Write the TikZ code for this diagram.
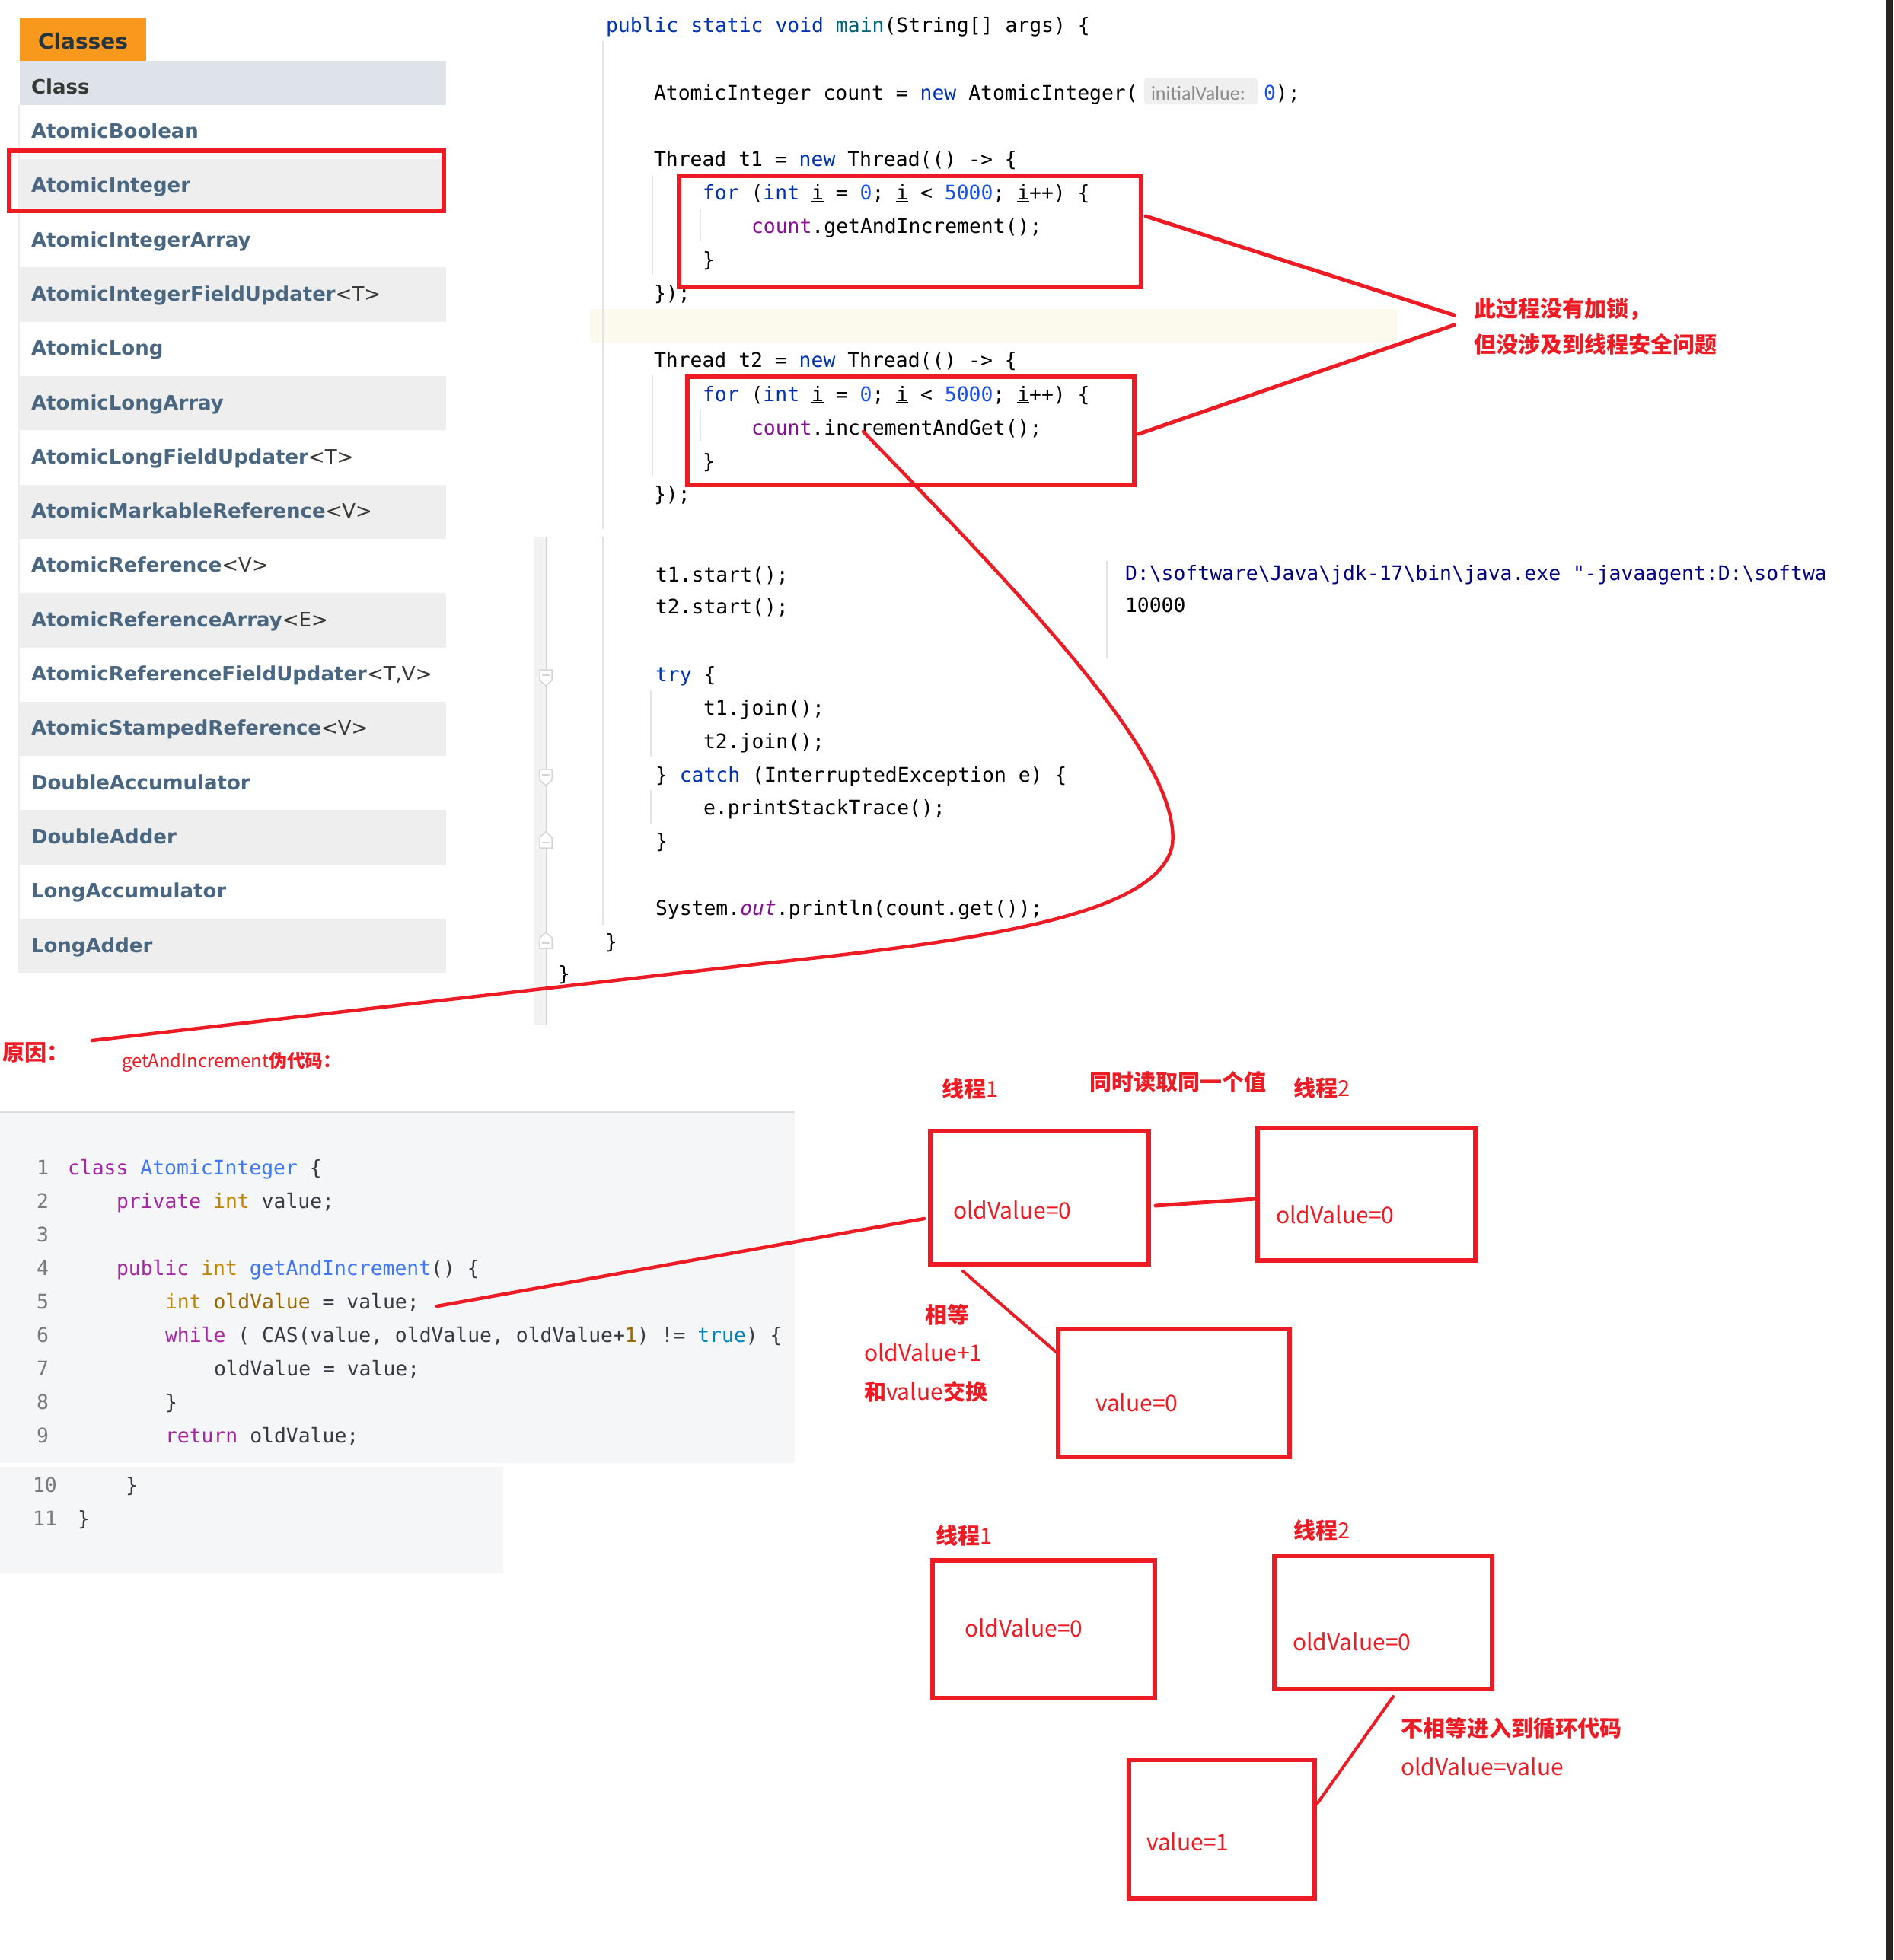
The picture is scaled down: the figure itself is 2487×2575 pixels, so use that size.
\documentclass[tikz,border=0pt]{standalone}
\usepackage{fontspec}
\setmainfont{DejaVu Sans}
\newfontfamily\dvs{DejaVu Sans}
\newfontfamily\mono{DejaVu Sans Mono}
\newfontfamily\cjk{Noto Sans CJK SC}
\newfontfamily\hint{Carlito}

\definecolor{pred}{HTML}{ED1C24}
\definecolor{tabor}{HTML}{F8981D}
\definecolor{tabtx}{HTML}{253441}
\definecolor{hdrbg}{HTML}{DEE3E9}
\definecolor{rowgray}{HTML}{EEEEEF}
\definecolor{link}{HTML}{4A6782}
\definecolor{dark}{HTML}{353833}
\definecolor{kw}{HTML}{0033B3}
\definecolor{fn}{HTML}{00627A}
\definecolor{num}{HTML}{1750EB}
\definecolor{pur}{HTML}{871094}
\definecolor{navy}{HTML}{000080}
\definecolor{guide}{HTML}{E4E4E4}
\definecolor{curline}{HTML}{FCFAED}
\definecolor{hintbg}{HTML}{EFEFEF}
\definecolor{hinttx}{HTML}{8C8C8C}
\definecolor{codebg}{HTML}{F5F6F8}
\definecolor{codeline}{HTML}{DDDDDD}
\definecolor{lnum}{HTML}{7A7A7A}
\definecolor{akw}{HTML}{A626A4}
\definecolor{aty}{HTML}{C18401}
\definecolor{avar}{HTML}{986801}
\definecolor{atit}{HTML}{4078F2}
\definecolor{alit}{HTML}{0184BC}
\definecolor{atxt}{HTML}{383A42}
\definecolor{gutter}{HTML}{F2F2F2}
\definecolor{gutline}{HTML}{D4D4D4}
\definecolor{rstrip}{HTML}{2A2421}

\newcommand\fsz[1]{\fontsize{#1}{#1}\selectfont}
\newcommand\ck[1]{\textcolor{kw}{#1}}
\newcommand\cn[1]{\textcolor{num}{#1}}
\newcommand\cpu[1]{\textcolor{pur}{#1}}
\newcommand\ui{\underline{i}}
\newcommand\bs{\textbackslash}
\newcommand\akw[1]{\textcolor{akw}{#1}}
\newcommand\aty[1]{\textcolor{aty}{#1}}
\newcommand\avar[1]{\textcolor{avar}{#1}}
\newcommand\atit[1]{\textcolor{atit}{#1}}
\newcommand\alit[1]{\textcolor{alit}{#1}}

\tikzset{
  txt/.style={anchor=base west, inner sep=0pt, outer sep=0pt},
  code/.style={txt, font=\mono\fsz{26.4}, text=black},
  pcode/.style={txt, font=\mono\fsz{26.4}, text=atxt},
  lno/.style={txt, font=\mono\fsz{26.4}, text=lnum},
  item/.style={txt, font=\dvs\bfseries\fsz{26}, text=link},
  redbox/.style={draw=pred, line width=6pt, anchor=north west, inner sep=0pt, outer sep=0pt},
  redline/.style={draw=pred, line width=5pt, line cap=round},
  boxtext/.style={txt, font=\cjk\fsz{30}, text=pred},
  clabel/.style={txt, font=\cjk\fsz{29}, text=pred},
  guideline/.style={draw=guide, line width=1.5pt},
  foldmark/.style={draw=gutline, fill=white, line width=1.5pt},
}

\newcommand\lrow[4]{%
  \path[fill=#4] (24,{137.5+71.3*#1}) rectangle (586,{137.5+71.3*(#1+1)});
  \node[item] (r#1) at (41,{137.5+71.3*#1+44}) {#2{\mdseries\color{dark}#3}};
}
\newcommand\folddown[1]{%
  \path[foldmark] (709,{#1-10}) -- (725,{#1-10}) -- (725,{#1+4}) -- (717,{#1+11}) -- (709,{#1+4}) -- cycle;
  \draw[gutline, line width=1.5pt] (712,{#1-3}) -- (722,{#1-3});
}
\newcommand\foldup[1]{%
  \path[foldmark] (709,{#1+10}) -- (725,{#1+10}) -- (725,{#1-4}) -- (717,{#1-11}) -- (709,{#1-4}) -- cycle;
  \draw[gutline, line width=1.5pt] (712,{#1+3}) -- (722,{#1+3});
}

\begin{document}
\begin{tikzpicture}[x=1pt,y=-1pt]
\useasboundingbox (0,0) rectangle (2487,2575);
\fill[white] (0,0) rectangle (2487,2575);

% ---------------- left class list ----------------
\node[fill=tabor, anchor=north west, inner sep=0pt, minimum width=166pt, minimum height=56pt] (tab) at (26,24) {};
\node[txt, font=\dvs\bfseries\fsz{28}, text=tabtx] (tabt) at (50,64) {Classes};
\node[fill=hdrbg, anchor=north west, inner sep=0pt, minimum width=560pt, minimum height=57.5pt] (hdr) at (26,80) {};
\node[txt, font=\dvs\bfseries\fsz{26}, text=dark] (hdrt) at (41,123) {Class};
\lrow{0}{AtomicBoolean}{}{white}
\lrow{1}{AtomicInteger}{}{rowgray}
\lrow{2}{AtomicIntegerArray}{}{white}
\lrow{3}{AtomicIntegerFieldUpdater}{<T>}{rowgray}
\lrow{4}{AtomicLong}{}{white}
\lrow{5}{AtomicLongArray}{}{rowgray}
\lrow{6}{AtomicLongFieldUpdater}{<T>}{white}
\lrow{7}{AtomicMarkableReference}{<V>}{rowgray}
\lrow{8}{AtomicReference}{<V>}{white}
\lrow{9}{AtomicReferenceArray}{<E>}{rowgray}
\lrow{10}{AtomicReferenceFieldUpdater}{<T,V>}{white}
\lrow{11}{AtomicStampedReference}{<V>}{rowgray}
\lrow{12}{DoubleAccumulator}{}{white}
\lrow{13}{DoubleAdder}{}{rowgray}
\lrow{14}{LongAccumulator}{}{white}
\lrow{15}{LongAdder}{}{rowgray}
\draw[rowgray, line width=2pt] (25,137.5) -- (25,1278);

% ---------------- editor ----------------
\fill[curline] (775,406) rectangle (1835,450);
\fill[gutter] (701,705) rectangle (717,1347);
\draw[gutline, line width=2pt] (718,705) -- (718,1347);
\folddown{890}
\folddown{1021}
\foldup{1104}
\foldup{1236}
\draw[guideline] (792,54) -- (792,695);
\draw[guideline] (792,705) -- (792,1215);
\draw[guideline] (857,230) -- (857,361);
\draw[guideline] (920,275) -- (920,317);
\draw[guideline] (857,493) -- (857,625);
\draw[guideline] (920,538) -- (920,580);
\draw[guideline] (855,907) -- (855,994);
\draw[guideline] (855,1038) -- (855,1082);

\node[code] (t0) at (796,42) {\ck{public static void} \textcolor{fn}{main}(String[] args) \{};
\node[code] (t1) at (859,131) {AtomicInteger count = \ck{new} AtomicInteger(};
\node[fill=hintbg, rounded corners=5pt, anchor=north west, minimum width=149pt, minimum height=35pt, inner sep=0pt] (hb) at (1503,102) {};
\node[txt, font=\hint\fsz{26}, text=hinttx] (ht) at (1512,131) {initialValue:};
\node[code] (t1b) at (1660,131) {\cn{0});};
\node[code] (t2) at (859,218) {Thread t1 = \ck{new} Thread(() -> \{};
\node[code] (t3) at (923,262.5) {\ck{for} (\ck{int} \ui{} = \cn{0}; \ui{} < \cn{5000}; \ui{}++) \{};
\node[code] (t4) at (987,306) {\cpu{count}.getAndIncrement();};
\node[code] (t5) at (923,350) {\}};
\node[code] (t6) at (859,394) {\});};
\node[code] (t7) at (859,482) {Thread t2 = \ck{new} Thread(() -> \{};
\node[code] (t8) at (923,527) {\ck{for} (\ck{int} \ui{} = \cn{0}; \ui{} < \cn{5000}; \ui{}++) \{};
\node[code] (t9) at (987,571) {\cpu{count}.incrementAndGet();};
\node[code] (t10) at (923,615) {\}};
\node[code] (t11) at (859,658) {\});};
\node[code] (t12) at (861,764) {t1.start();};
\node[code] (t13) at (861,806) {t2.start();};
\node[code] (t14) at (861,895.5) {\ck{try} \{};
\node[code] (t15) at (924,939) {t1.join();};
\node[code] (t16) at (924,983) {t2.join();};
\node[code] (t17) at (861,1027) {\} \ck{catch} (InterruptedException e) \{};
\node[code] (t18) at (924,1070) {e.printStackTrace();};
\node[code] (t19) at (861,1114) {\}};
\node[code] (t20) at (861,1202) {System.\cpu{\itshape out}.println(count.get());};
\node[code] (t21) at (795,1246) {\}};
\node[code] (t22) at (733,1288) {\}};

% console
\draw[guideline] (1454,737) -- (1454,865);
\node[code, text=navy] (con1) at (1478,762) {D:\bs{}software\bs{}Java\bs{}jdk-17\bs{}bin\bs{}java.exe "-javaagent:D:\bs{}softwa};
\node[code] (con2) at (1478,804) {10000};

% ---------------- pseudo code ----------------
\fill[codebg] (0,1462) rectangle (1044,1922);
\fill[codebg] (0,1927) rectangle (661,2067);
\draw[codeline, line width=2pt] (0,1461) -- (1044,1461);
\node[lno] (n1) at (48,1543) {1};
\node[lno] (n2) at (48,1587) {2};
\node[lno] (n3) at (48,1631) {3};
\node[lno] (n4) at (48,1675) {4};
\node[lno] (n5) at (48,1719) {5};
\node[lno] (n6) at (48,1763) {6};
\node[lno] (n7) at (48,1807) {7};
\node[lno] (n8) at (48,1851) {8};
\node[lno] (n9) at (48,1895) {9};
\node[lno] (n10) at (43,1960) {10};
\node[lno] (n11) at (43,2004) {11};
\node[pcode] (p1) at (89,1543) {\akw{class} \atit{AtomicInteger} \{};
\node[pcode] (p2) at (153,1587) {\akw{private} \aty{int} value;};
\node[pcode] (p4) at (153,1675) {\akw{public} \aty{int} \atit{getAndIncrement}() \{};
\node[pcode] (p5) at (217,1719) {\aty{int} \avar{oldValue} = value;};
\node[pcode] (p6) at (217,1763) {\akw{while} ( CAS(value, oldValue, oldValue+\avar{1}) != \alit{true}) \{};
\node[pcode] (p7) at (281,1807) {oldValue = value;};
\node[pcode] (p8) at (217,1851) {\}};
\node[pcode] (p9) at (217,1895) {\akw{return} oldValue;};
\node[pcode] (p10) at (165,1960) {\}};
\node[pcode] (p11) at (102,2004) {\}};

% ---------------- red annotations ----------------
\node[redbox, minimum width=571pt, minimum height=79pt] (bcls) at (12,198) {};
\node[redbox, minimum width=607pt, minimum height=146pt] (bt1) at (892,231) {};
\node[redbox, minimum width=587pt, minimum height=142pt] (bt2) at (903,495) {};

\node[clabel] (ann1) at (1936,416) {\bfseries 此过程没有加锁，};
\node[clabel] (ann2) at (1936,463) {\bfseries 但没涉及到线程安全问题};
\coordinate (tip1) at (1910,414);
\coordinate (tip2) at (1910,427);
\coordinate (bt1r) at (1505,284);
\coordinate (bt2r) at (1496,570);
\draw[redline] (bt1r) -- (tip1);
\draw[redline] (tip2) -- (bt2r);

\coordinate (cs) at (1134,567);
\coordinate (cm) at (1540,1110);
\coordinate (cq) at (1000,1266);
\coordinate (ce) at (121,1367);
\draw[redline, line width=4.5pt] (cs) .. controls (1350,790) and (1553,1000) .. (cm)
   .. controls (1523,1200) and (1300,1235) .. (cq) -- (ce);

\node[clabel] (why) at (3,1393) {\bfseries 原因：};
\node[txt, font=\cjk\fsz{23.8}, text=pred] (pseudo) at (160,1402) {getAndIncrement{\bfseries 伪代码：}};

% top diagram
\node[redbox, minimum width=287pt, minimum height=175pt] (bA) at (1222,1486) {};
\node[redbox, minimum width=286pt, minimum height=174pt] (bB) at (1652,1482) {};
\node[redbox, minimum width=304pt, minimum height=168pt] (bC) at (1390,1746) {};
\node[boxtext] (tA) at (1252,1601) {oldValue=0};
\node[boxtext] (tB) at (1676,1607) {oldValue=0};
\node[boxtext] (tC) at (1439,1854) {value=0};
\node[clabel] (lA) at (1237,1441) {{\bfseries 线程}1};
\node[clabel] (lAB) at (1431,1432) {\bfseries 同时读取同一个值};
\node[clabel] (lB) at (1699,1440) {{\bfseries 线程}2};
\node[clabel] (eq) at (1215,1738) {\bfseries 相等};
\node[boxtext] (eq2) at (1135,1788) {oldValue+1};
\node[clabel] (eq3) at (1135,1839) {{\bfseries 和}{\fsz{30}value}{\bfseries 交换}};
\coordinate (p5e) at (574,1716);
\coordinate (bAw) at (1214,1601);
\coordinate (bAe) at (1518,1584);
\coordinate (bBw) at (1649,1575);
\coordinate (bAs) at (1265,1670);
\coordinate (bCw) at (1387,1776);
\draw[redline, line width=4.5pt] (p5e) -- (bAw);
\draw[redline] (bAe) -- (bBw);
\draw[redline, line width=4pt] (bAs) -- (bCw);

% bottom diagram
\node[redbox, minimum width=292pt, minimum height=181pt] (bD) at (1225,2050) {};
\node[redbox, minimum width=286pt, minimum height=175pt] (bE) at (1674,2044) {};
\node[redbox, minimum width=244pt, minimum height=182pt] (bF) at (1483,2312) {};
\node[boxtext] (tD) at (1267,2150) {oldValue=0};
\node[boxtext] (tE) at (1698,2168) {oldValue=0};
\node[boxtext] (tF) at (1506,2431) {value=1};
\node[clabel] (lD) at (1229,2028) {{\bfseries 线程}1};
\node[clabel] (lE) at (1699,2021) {{\bfseries 线程}2};
\node[clabel] (ne) at (1840,2281) {\bfseries 不相等进入到循环代码};
\node[boxtext] (ne2) at (1840,2332) {oldValue=value};
\coordinate (bEs) at (1830,2229);
\coordinate (bFe) at (1730,2370);
\draw[redline, line width=4pt] (bEs) -- (bFe);

% right dark strip
\fill[rstrip] (2477,0) rectangle (2487,2575);
\end{tikzpicture}
\end{document}
